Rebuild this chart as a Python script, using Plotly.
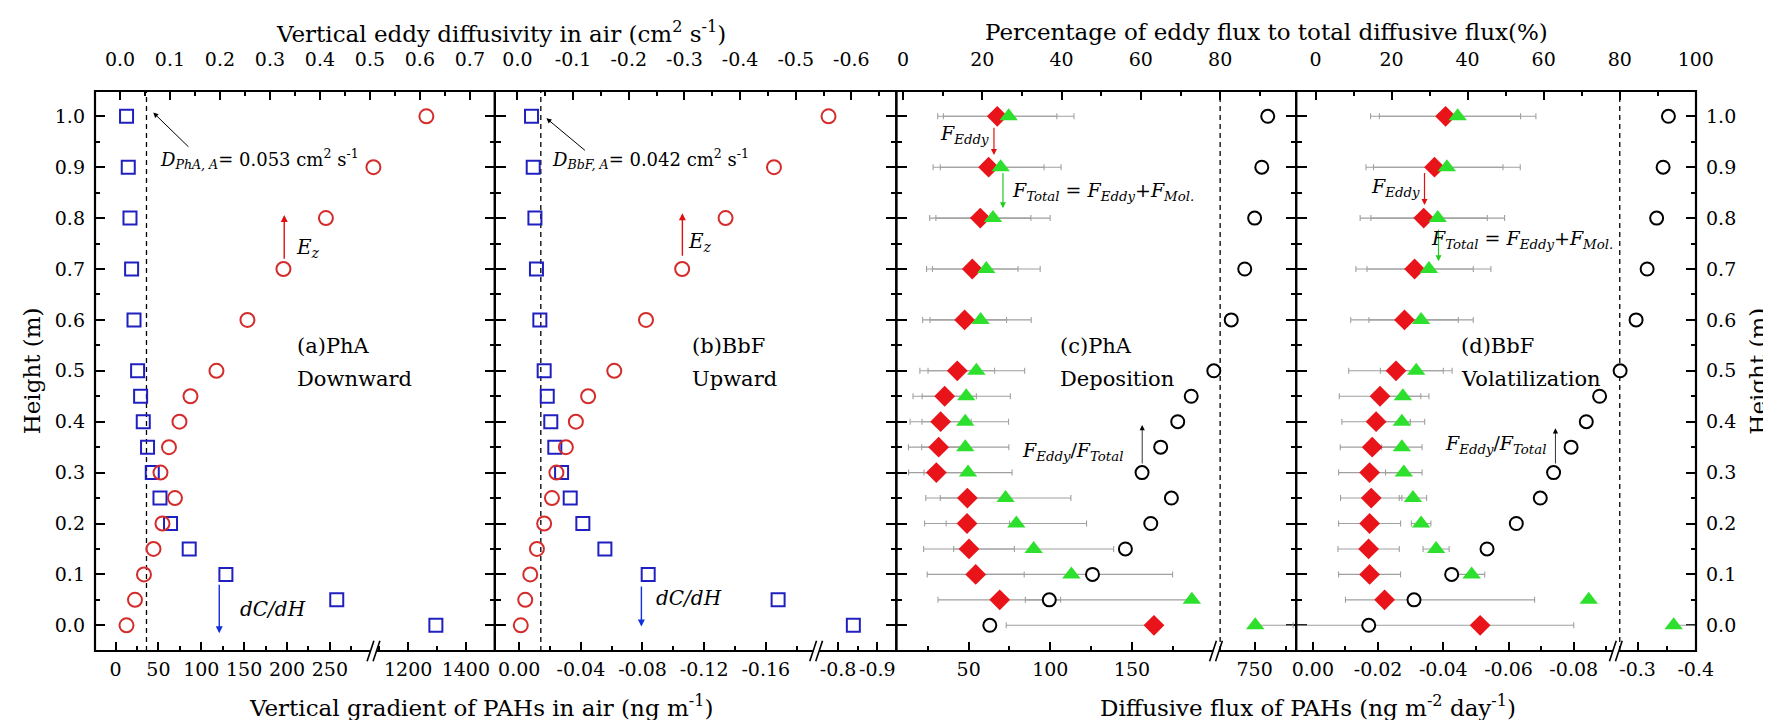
import plotly.graph_objects as go

# ---------------- data ----------------
HEIGHT = [0.0, 0.05, 0.1, 0.15, 0.2, 0.25, 0.3, 0.35, 0.4, 0.45, 0.5, 0.6, 0.7, 0.8, 0.9, 1.0]

# (a) PhA
pha_ez = [0.013, 0.030, 0.048, 0.067, 0.085, 0.110, 0.081, 0.098, 0.119, 0.141, 0.193, 0.255, 0.327, 0.412, 0.507, 0.613]
pha_grad = [1296, 258, 128.7, 85.9, 64.1, 51.8, 42.8, 37.3, 32.3, 29.2, 25.7, 21.5, 18.7, 16.8, 14.8, 12.8]
# (b) BbF
bbf_ez = [-0.006, -0.014, -0.023, -0.035, -0.048, -0.062, -0.070, -0.087, -0.105, -0.127, -0.174, -0.231, -0.296, -0.374, -0.461, -0.559]
bbf_grad = [-0.839, -0.168, -0.0837, -0.0556, -0.0413, -0.0331, -0.0275, -0.0231, -0.0205, -0.0182, -0.0162, -0.0134, -0.0112, -0.0102, -0.0091, -0.0080]
# (c) PhA fluxes
pha_pct = [21.9, 36.9, 47.8, 56.1, 62.5, 67.7, 60.3, 65.0, 69.3, 72.7, 78.4, 82.8, 86.2, 88.7, 90.5, 92.0]
pha_eddy = [163.5, 69.0, 54.3, 50.2, 49.0, 49.2, 30.2, 31.6, 32.8, 35.3, 43.0, 47.5, 52.2, 57.1, 62.2, 67.5]
pha_eddy_ep = [0, 37.3, 29.7, 27.8, 26, 25.5, 17, 18.5, 18.7, 19.4, 22.9, 25.7, 28, 31, 34, 36.5]
pha_eddy_em = [90.5, 37.8, 29.7, 27.8, 26, 25.5, 17, 18.5, 18.7, 19.4, 22.9, 25.7, 28, 31, 34, 36.5]
pha_total = [750.5, 186.7, 112.9, 89.8, 79.2, 72.6, 49.6, 47.9, 47.9, 48.5, 54.7, 57.3, 60.8, 64.9, 69.6, 74.5]
pha_total_ep = [30, 0, 62, 49, 43, 40, 27, 26.7, 26.5, 27, 29.6, 31, 33, 35, 37, 40]
pha_total_em = [0, 102, 62, 49, 43, 40, 27, 26.7, 26.5, 27, 29.6, 31, 33, 35, 37, 40]
# (d) BbF fluxes
bbf_pct = [14.0, 25.9, 35.8, 45.1, 52.8, 59.1, 62.6, 67.2, 71.2, 74.7, 80.1, 84.3, 87.2, 89.7, 91.4, 92.8]
bbf_eddy = [-0.0513, -0.0220, -0.0174, -0.0171, -0.0174, -0.0179, -0.0174, -0.0182, -0.0194, -0.0206, -0.0255, -0.0281, -0.0312, -0.0340, -0.0373, -0.0407]
bbf_eddy_ep = [0.057, 0.012, 0.0095, 0.0094, 0.0095, 0.0094, 0.0095, 0.0098, 0.0105, 0.0125, 0.0145, 0.0165, 0.018, 0.0195, 0.021, 0.023]
bbf_eddy_em = [0.0287, 0.046, 0.0095, 0.0094, 0.0095, 0.0094, 0.0095, 0.0098, 0.0105, 0.0125, 0.0145, 0.0165, 0.018, 0.0195, 0.021, 0.023]
bbf_total = [-0.362, -0.0846, -0.0487, -0.0378, -0.0332, -0.0307, -0.0279, -0.0273, -0.0273, -0.0276, -0.0317, -0.0332, -0.0356, -0.0383, -0.0411, -0.0444]
bbf_total_ep = [0, 0, 0.004, 0.004, 0.003, 0.0042, 0.0056, 0.0062, 0.007, 0.008, 0.011, 0.016, 0.019, 0.0205, 0.0225, 0.024]
bbf_total_em = [0.05, 0, 0.004, 0.004, 0.003, 0.0042, 0.0056, 0.0062, 0.007, 0.008, 0.011, 0.016, 0.019, 0.0205, 0.0225, 0.024]

D_PHA = 0.053
D_BBF = 0.042
PCT_REF = 80

# tick labels
Y_TICKS = [0.0, 0.1, 0.2, 0.3, 0.4, 0.5, 0.6, 0.7, 0.8, 0.9, 1.0]
Y_TEXT = ['0.0', '0.1', '0.2', '0.3', '0.4', '0.5', '0.6', '0.7', '0.8', '0.9', '1.0']
Y_MINOR = [0.05, 0.15, 0.25, 0.35, 0.45, 0.55, 0.65, 0.75, 0.85, 0.95]

A_B1 = [0, 50, 100, 150, 200, 250]; A_B1_T = ['0', '50', '100', '150', '200', '250']; A_B1_M = [25, 75, 125, 175, 225, 275]
A_B2 = [1200, 1400]; A_B2_T = ['1200', '1400']; A_B2_M = [1100, 1300]
A_T = [0.0, 0.1, 0.2, 0.3, 0.4, 0.5, 0.6, 0.7]; A_T_T = ['0.0', '0.1', '0.2', '0.3', '0.4', '0.5', '0.6', '0.7']
A_T_M = [0.05, 0.15, 0.25, 0.35, 0.45, 0.55, 0.65]
B_B1 = [0, -0.04, -0.08, -0.12, -0.16]; B_B1_T = ['0.00', '-0.04', '-0.08', '-0.12', '-0.16']; B_B1_M = [-0.02, -0.06, -0.10, -0.14, -0.18]
B_B2 = [-0.8, -0.9]; B_B2_T = ['-0.8', '-0.9']; B_B2_M = [-0.85]
B_T = [0.0, -0.1, -0.2, -0.3, -0.4, -0.5, -0.6]; B_T_T = ['0.0', '-0.1', '-0.2', '-0.3', '-0.4', '-0.5', '-0.6']
B_T_M = [-0.05, -0.15, -0.25, -0.35, -0.45, -0.55, -0.65]
C_B1 = [50, 100, 150]; C_B1_T = ['50', '100', '150']; C_B1_M = [25, 75, 125, 175]
C_B2 = [750]; C_B2_T = ['750']; C_B2_M = [775]
C_T = [0, 20, 40, 60, 80]; C_T_T = ['0', '20', '40', '60', '80']; C_T_M = [10, 30, 50, 70, 90]
D_B1 = [0, -0.02, -0.04, -0.06, -0.08]; D_B1_T = ['0.00', '-0.02', '-0.04', '-0.06', '-0.08']; D_B1_M = [-0.01, -0.03, -0.05, -0.07, -0.09]
D_B2 = [-0.3, -0.4]; D_B2_T = ['-0.3', '-0.4']; D_B2_M = [-0.35]
D_T = [0, 20, 40, 60, 80, 100]; D_T_T = ['0', '20', '40', '60', '80', '100']; D_T_M = [10, 30, 50, 70, 90]

# ---------------- geometry ----------------
W, HH = 1771, 720
L, R, T, B = 86.7, 1688.3, 82.7, 642.7
def PX(px): return (px - L) / (R - L)
def PY(py): return (B - py) / (B - T)

FONT = 'DejaVu Serif'
TF = dict(family=FONT, size=19, color='black')

PANEL_PX = [(86.7, 486.7), (486.7, 888.3), (888.3, 1288.3), (1288.3, 1688.3)]
BREAK_PX = [365.5, 808.3, 1208.3, 1608.3]

RANGES = [
    dict(b1=[-24.0, 301.1], b2=[1080.4, 1500.5], top=[-0.05, 0.75]),
    dict(b1=[0.0158, -0.1928], b2=[-0.7448, -0.9483], top=[0.0406, -0.6808]),
    dict(b1=[5.66, 201.6], b2=[719.6, 782.9], top=[-1.69, 99.17]),
    dict(b1=[0.00512, -0.09297], b2=[-0.2628, -0.4005], top=[-5.09, 100.05]),
]
TICKS = [
    (A_B1, A_B1_T, A_B1_M, A_B2, A_B2_T, A_B2_M, A_T, A_T_T, A_T_M),
    (B_B1, B_B1_T, B_B1_M, B_B2, B_B2_T, B_B2_M, B_T, B_T_T, B_T_M),
    (C_B1, C_B1_T, C_B1_M, C_B2, C_B2_T, C_B2_M, C_T, C_T_T, C_T_M),
    (D_B1, D_B1_T, D_B1_M, D_B2, D_B2_T, D_B2_M, D_T, D_T_T, D_T_M),
]

def aid(n): return 'x' if n == 1 else 'x%d' % n
def akey(n): return 'xaxis' if n == 1 else 'xaxis%d' % n

def xax(domain, rng, side, vals, text, minor, standoff):
    return dict(domain=domain, range=rng, anchor='y', side=side,
                tickmode='array', tickvals=vals, ticktext=text,
                ticks='inside', ticklen=9, tickwidth=2, tickcolor='black',
                minor=dict(tickmode='array', tickvals=minor, ticks='inside', ticklen=5,
                           tickwidth=2, tickcolor='black', showgrid=False),
                showgrid=False, zeroline=False, showline=False,
                tickfont=TF, ticklabelstandoff=standoff, fixedrange=True)

layout = dict(width=W, height=HH, paper_bgcolor='white', plot_bgcolor='rgba(0,0,0,0)',
              margin=dict(l=L, r=W - R, t=T, b=HH - B, pad=0), showlegend=False,
              font=dict(family=FONT, color='black'))

for k in range(4):
    n = 3 * k + 1
    x0, x1 = PX(PANEL_PX[k][0]), PX(PANEL_PX[k][1])
    xb = PX(BREAK_PX[k])
    tb = TICKS[k]
    layout[akey(n)] = xax([x0, xb], RANGES[k]['b1'], 'bottom', tb[0], tb[1], tb[2], 5)
    layout[akey(n + 1)] = xax([xb, x1], RANGES[k]['b2'], 'bottom', tb[3], tb[4], tb[5], 5)
    layout[akey(n + 2)] = xax([x0, x1], RANGES[k]['top'], 'top', tb[6], tb[7], tb[8], 20)

YR = [-0.0505, 1.0497]
def yax(**kw):
    d = dict(range=YR, tickmode='array', tickvals=Y_TICKS, ticktext=Y_TEXT,
             ticks='inside', ticklen=10, tickwidth=2, tickcolor='black',
             minor=dict(tickmode='array', tickvals=Y_MINOR, ticks='inside', ticklen=5,
                        tickwidth=2, tickcolor='black', showgrid=False),
             showgrid=False, zeroline=False, showline=False, tickfont=TF,
             ticklabelstandoff=9, fixedrange=True)
    d.update(kw)
    return d

layout['yaxis'] = yax(domain=[0, 1], anchor='x', side='left')
layout['yaxis2'] = yax(overlaying='y', anchor='free', position=1.0, side='right')
extra_y = ['y2']
yi = 3
for k in (1, 2, 3):
    p = PX(PANEL_PX[k][0])
    for tk in ('inside', 'outside'):
        mk = dict(tickmode='array', tickvals=Y_MINOR, ticks=tk, ticklen=5, tickwidth=2,
                  tickcolor='black', showgrid=False)
        layout['yaxis%d' % yi] = yax(overlaying='y', anchor='free', position=p, side='left',
                                     ticks=tk, showticklabels=False, minor=mk)
        extra_y.append('y%d' % yi)
        yi += 1

fig = go.Figure(layout=layout)

# empty traces so that every extra y axis (ticks only) is drawn
for ya in extra_y:
    fig.add_trace(go.Scatter(x=[], y=[], xaxis='x', yaxis=ya, mode='markers', hoverinfo='skip'))

# ---------------- traces ----------------
RED_C = '#d42b2b'
BLUE_S = '#2020c0'
RED_D = '#e8141a'
GREEN_T = '#2ee02e'
ERR_C = '#a0a0a0'

def pick(vals, rng, *extras):
    lo, hi = min(rng), max(rng)
    idx = [i for i, v in enumerate(vals) if lo <= v <= hi]
    return [vals[i] for i in idx], [HEIGHT[i] for i in idx], [[e[i] for i in idx] for e in extras]

def open_marker(vals, axn, sym, color, size):
    fig.add_trace(go.Scatter(x=vals, y=HEIGHT, xaxis=aid(axn), yaxis='y', mode='markers',
                             marker=dict(symbol=sym, size=size, color=color,
                                         line=dict(color=color, width=2)),
                             cliponaxis=False, hoverinfo='skip'))

def seg_markers(vals, k, sym, color, size, open_=True):
    for j, key in ((0, 'b1'), (1, 'b2')):
        xs, ys, _ = pick(vals, RANGES[k][key])
        if not xs:
            continue
        m = dict(symbol=sym, size=size, color=color, line=dict(width=2, color=color)) if open_ else \
            dict(symbol=sym, size=size, color=color, line=dict(width=0))
        fig.add_trace(go.Scatter(x=xs, y=ys, xaxis=aid(3 * k + 1 + j), yaxis='y', mode='markers',
                                 marker=m, cliponaxis=False, hoverinfo='skip'))

def seg_errors(vals, ep, em, k):
    for j, key in ((0, 'b1'), (1, 'b2')):
        xs, ys, (p, m) = pick(vals, RANGES[k][key], ep, em)
        if not xs:
            continue
        fig.add_trace(go.Scatter(x=xs, y=ys, xaxis=aid(3 * k + 1 + j), yaxis='y', mode='markers',
                                 marker=dict(size=2, opacity=0),
                                 error_x=dict(type='data', symmetric=False, array=p, arrayminus=m,
                                              color=ERR_C, thickness=1.1, width=3),
                                 hoverinfo='skip'))

# panel a
open_marker(pha_ez, 3, 'circle-open', RED_C, 14)
seg_markers(pha_grad, 0, 'square-open', BLUE_S, 13)
# panel b
open_marker(bbf_ez, 6, 'circle-open', RED_C, 14)
seg_markers(bbf_grad, 1, 'square-open', BLUE_S, 13)
# panel c
seg_errors(pha_eddy, pha_eddy_ep, pha_eddy_em, 2)
seg_errors(pha_total, pha_total_ep, pha_total_em, 2)
seg_markers(pha_eddy, 2, 'diamond', RED_D, 16, open_=False)
seg_markers(pha_total, 2, 'triangle-up', GREEN_T, 16, open_=False)
fig.add_trace(go.Scatter(x=pha_pct, y=HEIGHT, xaxis=aid(9), yaxis='y', mode='markers',
                         marker=dict(symbol='circle', size=13, color='white', line=dict(color='black', width=2)),
                         cliponaxis=False, hoverinfo='skip'))
# panel d
seg_errors(bbf_eddy, bbf_eddy_ep, bbf_eddy_em, 3)
seg_errors(bbf_total, bbf_total_ep, bbf_total_em, 3)
seg_markers(bbf_eddy, 3, 'diamond', RED_D, 16, open_=False)
seg_markers(bbf_total, 3, 'triangle-up', GREEN_T, 16, open_=False)
fig.add_trace(go.Scatter(x=bbf_pct, y=HEIGHT, xaxis=aid(12), yaxis='y', mode='markers',
                         marker=dict(symbol='circle', size=13, color='white', line=dict(color='black', width=2)),
                         cliponaxis=False, hoverinfo='skip'))

# ---------------- shapes ----------------
shapes = []
for xr, val in ((aid(3), D_PHA), (aid(6), -D_BBF), (aid(9), PCT_REF), (aid(12), PCT_REF)):
    shapes.append(dict(type='line', xref=xr, yref='paper', x0=val, x1=val, y0=0, y1=1,
                       line=dict(color='black', width=1.3, dash='5px,4px'), layer='below'))
for (a, b) in PANEL_PX:
    shapes.append(dict(type='rect', xref='paper', yref='paper', x0=PX(a), x1=PX(b), y0=0, y1=1,
                       line=dict(color='black', width=2.2), layer='above'))
for cx in BREAK_PX:
    shapes.append(dict(type='rect', xref='paper', yref='paper', x0=PX(cx - 2.8), x1=PX(cx + 2.8),
                       y0=PY(645), y1=PY(640.3), fillcolor='white', line=dict(width=0), layer='above'))
    for dx in (-3.2, 2.8):
        shapes.append(dict(type='line', xref='paper', yref='paper',
                           x0=PX(cx + dx - 3.4), y0=PY(653), x1=PX(cx + dx + 3.4), y1=PY(632.5),
                           line=dict(color='black', width=1.6), layer='above'))
fig.update_layout(shapes=shapes)

# ---------------- annotations ----------------
ann = []
SHIFT = -6  # compensate annotation box padding for left-anchored text
def text(px, py, s, size=19, xanchor='center', angle=0):
    if xanchor == 'left':
        px += SHIFT
    if '<sub>' in s:
        py -= 7  # subscripts enlarge the text box downwards
    ann.append(dict(x=PX(px), y=PY(py), xref='paper', yref='paper', text=s, showarrow=False,
                    xanchor=xanchor, yanchor='middle', textangle=angle,
                    font=dict(family=FONT, size=size, color='black')))

def arrow(hx, hy, tx, ty, color, width=1.3, size=1.0):
    ann.append(dict(x=PX(hx), y=PY(hy), xref='paper', yref='paper', text='', showarrow=True,
                    ax=tx - hx, ay=ty - hy, axref='pixel', ayref='pixel',
                    arrowhead=2, arrowsize=size, arrowwidth=width, arrowcolor=color, standoff=0))

# axis titles
text(493, 24, 'Vertical eddy diffusivity in air (cm<sup>2</sup> s<sup>-1</sup>)', 23)
text(1258.7, 24, 'Percentage of eddy flux to total diffusive flux(%)', 23)
text(473, 698, 'Vertical gradient of PAHs in air (ng m<sup>-1</sup>)', 23)
text(1300.5, 698, 'Diffusive flux of PAHs (ng m<sup>-2</sup> day<sup>-1</sup>)', 23)
text(24, 362.7, 'Height (m)', 23, angle=-90)
text(1750, 362.7, 'Height (m)', 23, angle=-90)

# panel labels
for px, l1, l2 in ((292.7, '(a)PhA', 'Downward'), (688.3, '(b)BbF', 'Upward'),
                   (1055.7, '(c)PhA', 'Deposition'), (1457.3, '(d)BbF', 'Volatilization')):
    text(px, 338, l1, 21, 'left')
    text(px, 371, l2, 21, 'left')

# panel a/b annotations
text(155.7, 158, '<i>D</i><sub><i>PhA, A</i></sub>= 0.053 cm<sup>2</sup> s<sup>-1</sup>', 18, 'left')
text(548.3, 158, '<i>D</i><sub><i>BbF, A</i></sub>= 0.042 cm<sup>2</sup> s<sup>-1</sup>', 18, 'left')
arrow(145, 104.3, 181.7, 140, 'black', 1.0)
arrow(538.3, 110, 578.3, 143.3, 'black', 1.0)
arrow(276, 206.7, 276, 252, '#e01010', 1.4)
arrow(674.3, 205, 674.3, 249, '#e01010', 1.4)
text(291.7, 247, '<i>E</i><sub><i>z</i></sub>', 20, 'left')
text(684.3, 241, '<i>E</i><sub><i>z</i></sub>', 20, 'left')
arrow(211, 625, 211, 575, '#1030e0', 1.4)
arrow(633.3, 618.3, 633.3, 576.7, '#1030e0', 1.4)
text(265, 601, '<i>dC/dH</i>', 20)
text(681, 590, '<i>dC/dH</i>', 20)

# panel c/d annotations
FE = '<i>F</i><sub><i>Eddy</i></sub>'
FT = '<i>F</i><sub><i>Total</i></sub> = <i>F</i><sub><i>Eddy</i></sub>+<i>F</i><sub><i>Mol.</i></sub>'
FR = '<i>F</i><sub><i>Eddy</i></sub>/<i>F</i><sub><i>Total</i></sub>'
text(936, 133, FE, 19, 'left')
arrow(986, 146.7, 986, 118, '#e01010', 1.2)
arrow(995, 200, 995, 163.3, '#22cc22', 1.2)
text(1008.3, 190, FT, 19, 'left')
text(1018, 450, FR, 19, 'left')
arrow(1134.3, 416.7, 1134.3, 456.7, 'black', 0.8, 1.3)
text(1366.7, 186, FE, 19, 'left')
arrow(1416.7, 196.7, 1416.7, 163.3, '#e01010', 1.2)
arrow(1430.7, 253, 1430.7, 220, '#22cc22', 1.2)
text(1427.3, 238, FT, 19, 'left')
text(1441.7, 443, FR, 19, 'left')
arrow(1547.7, 420, 1547.7, 456.7, 'black', 0.8, 1.3)

fig.update_layout(annotations=ann)
fig.write_html('out.html')
